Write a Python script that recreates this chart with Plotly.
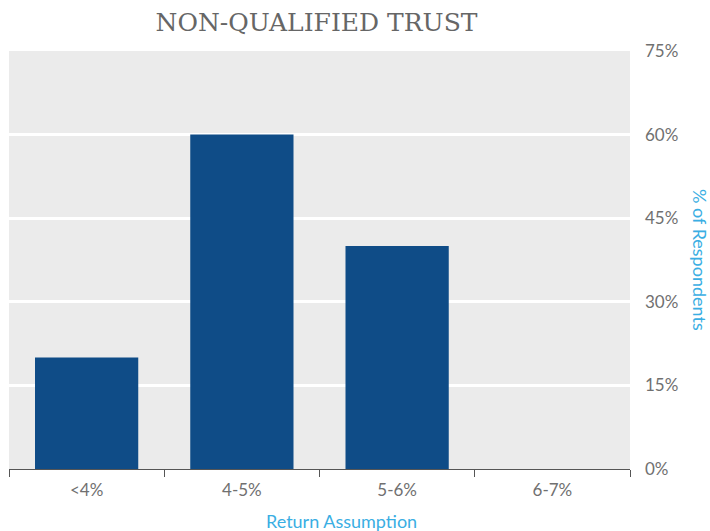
import plotly.graph_objects as go

# data
categories = ["<4%", "4-5%", "5-6%", "6-7%"]
respondents = [20, 60, 40, 0]
y_ticks = [0, 15, 30, 45, 60, 75]
y_tick_labels = [f"{v}%" for v in y_ticks]

BAR = "#0F4C87"
GREY = "#707070"
BLUE = "#3AAEE3"

fig = go.Figure()
fig.add_trace(go.Bar(
    x=categories,
    y=respondents,
    marker=dict(color=BAR, line=dict(width=0)),
    width=0.665,
    hoverinfo="skip",
))

fig.update_layout(
    width=710, height=531,
    margin=dict(l=9, r=80, t=51, b=62),
    paper_bgcolor="white",
    plot_bgcolor="#EBEBEB",
    showlegend=False,
    font=dict(family="Lato", color=GREY, size=16),
    title=dict(
        text="NON-QUALIFIED TRUST",
        x=0.4458, xanchor="center", y=0.958, yanchor="middle",
        font=dict(family="DejaVu Serif", size=25, color="#666666"),
    ),
)

fig.update_xaxes(
    type="category",
    tickson="boundaries",
    ticks="outside", ticklen=7, tickcolor="#555555", tickwidth=1,
    showline=True, linecolor="#555555", linewidth=1,
    showgrid=False,
    ticklabelstandoff=6,
    tickfont=dict(size=17, color=GREY),
)

fig.update_yaxes(
    side="right",
    range=[0, 75],
    tickvals=y_ticks, ticktext=y_tick_labels,
    showgrid=True, gridcolor="white", gridwidth=3,
    zeroline=False,
    ticks="", ticklabelstandoff=14,
    tickfont=dict(size=17, color=GREY),
)

fig.add_annotation(
    text="Return Assumption",
    xref="paper", yref="paper",
    x=0.536, y=0, yshift=-52, yanchor="middle",
    showarrow=False,
    font=dict(size=18, color=BLUE),
)

fig.add_annotation(
    text="% of Respondents",
    xref="paper", yref="paper",
    x=1.0, xanchor="center", xshift=70, y=0.5,
    textangle=90, showarrow=False,
    font=dict(size=18, color=BLUE),
)

# drop the default body margin so the 710x531 figure fills the window
fig.write_html(
    "out.html",
    config={"displayModeBar": False},
    post_script="document.body.style.margin='0';",
)
